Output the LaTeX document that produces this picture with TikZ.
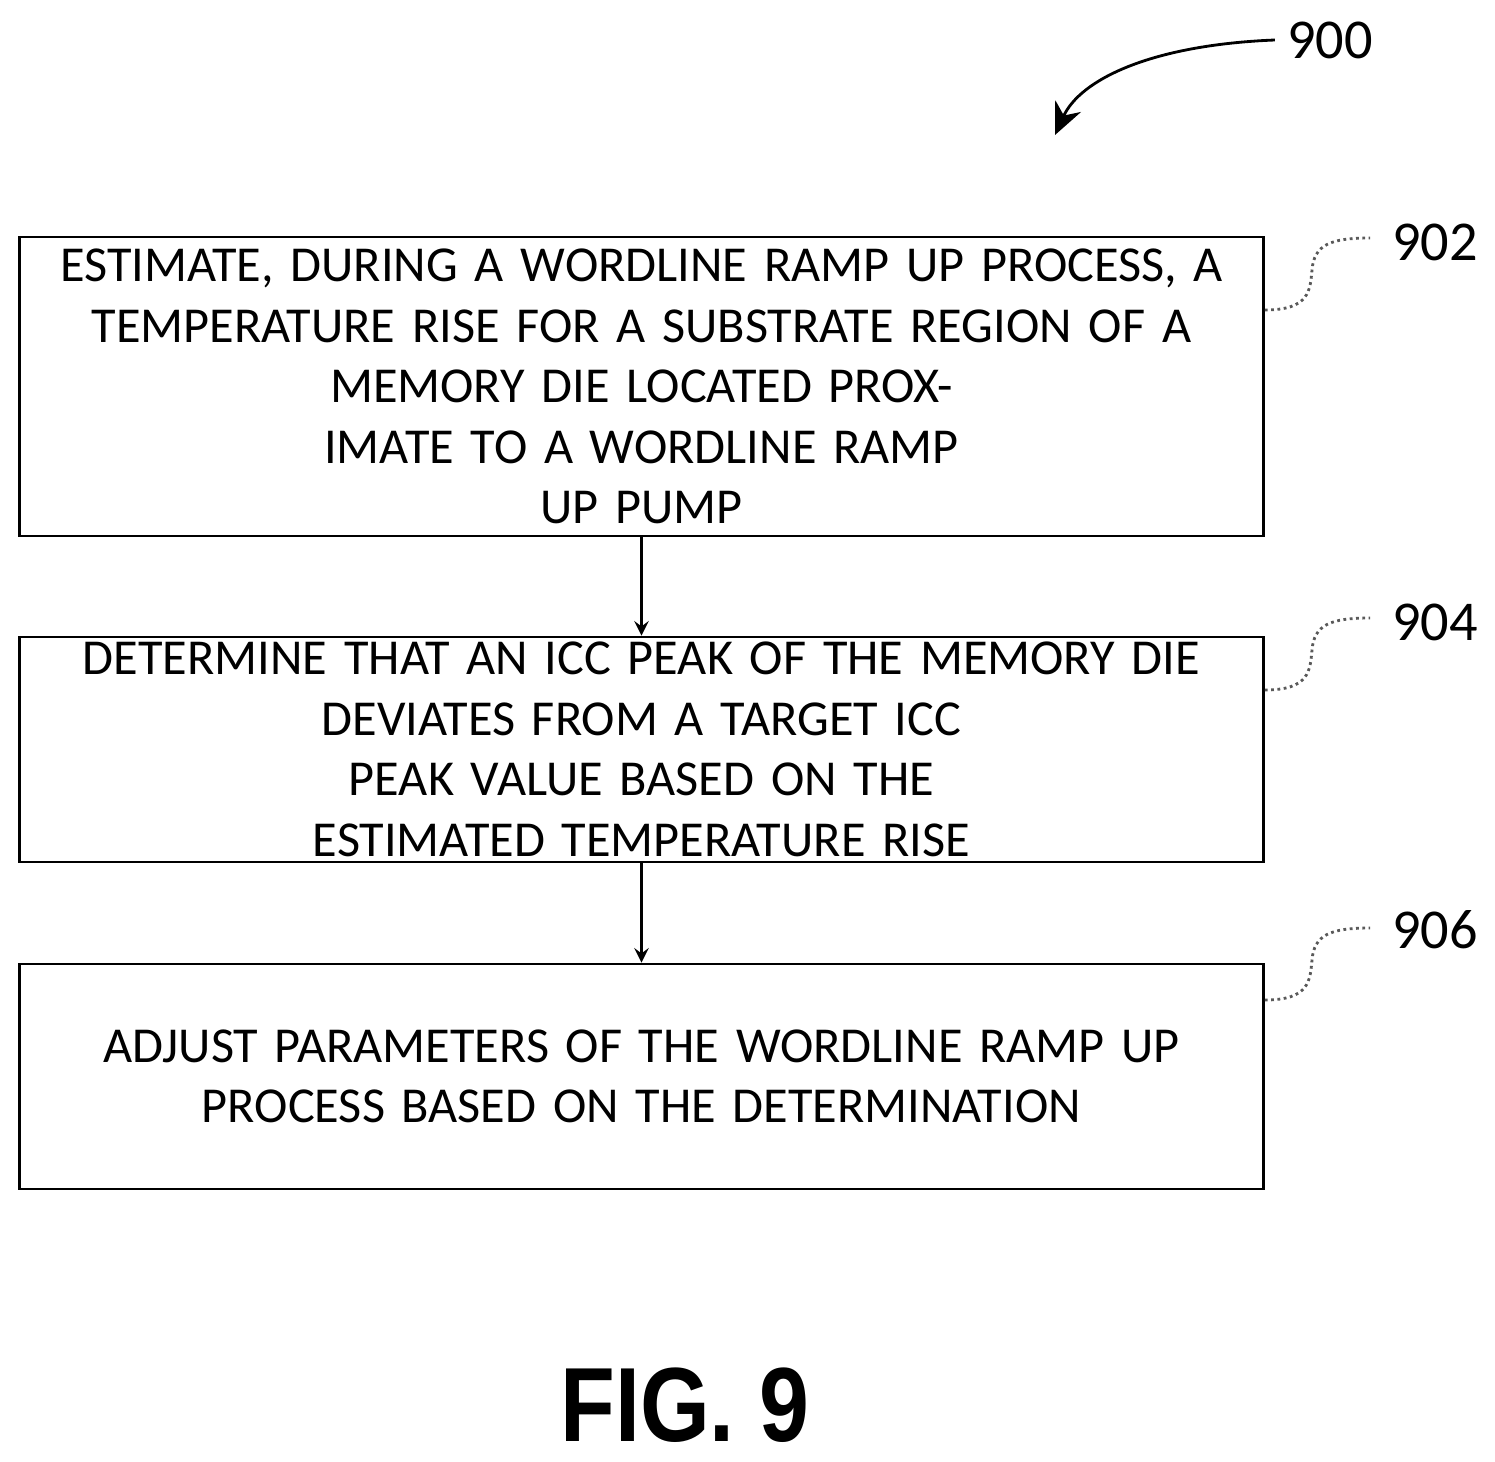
\documentclass[tikz,border=0pt]{standalone}
\usepackage{fontspec}
\setmainfont{Carlito}
\newfontfamily\figfont{Liberation Sans}
\usetikzlibrary{positioning, arrows.meta}
\tikzset{
  >=stealth,
  % process box
  procbox/.style={draw, thick, rectangle, minimum width=12.43cm, text width=12.2cm,
    align=center, font=\fontsize{14.3pt}{17.2pt}\selectfont, inner sep=0pt},
  % reference numbers
  refno/.style={font=\fontsize{16pt}{18pt}\selectfont},
  % squiggle leader
  lead/.style={densely dotted, thick, gray!70!black},
}
\begin{document}
\begin{tikzpicture}[x=0.01cm, y=-0.01cm]
  \useasboundingbox (0,0) rectangle (1495,1461);

  \node[procbox, minimum height=2.99cm] (s902) at (641.5,386.5)
    {ESTIMATE, DURING A WORDLINE RAMP UP PROCESS, A\\
     TEMPERATURE RISE FOR A SUBSTRATE REGION OF A\\
     MEMORY DIE LOCATED PROXIMATE TO A WORDLINE RAMP\\
     UP PUMP};
  \node[procbox, minimum height=2.25cm] (s904) at (641.5,749.5)
    {DETERMINE THAT AN ICC PEAK OF THE MEMORY DIE\\
     DEVIATES FROM A TARGET ICC PEAK VALUE BASED ON THE\\
     ESTIMATED TEMPERATURE RISE};
  \node[procbox, minimum height=2.25cm] (s906) at (641.5,1076.5)
    {ADJUST PARAMETERS OF THE WORDLINE RAMP UP\\
     PROCESS BASED ON THE DETERMINATION};

  \draw[thick, ->] (s902) -- (s904);
  \draw[thick, ->] (s904) -- (s906);

  % reference labels
  \node[refno] (l900) at (1330,40) {900};
  \node[refno] (l902) at (1435,242) {902};
  \node[refno] (l904) at (1435,622) {904};
  \node[refno] (l906) at (1435,930) {906};

  \coordinate (a900) at (1055,135);
  \draw[thick, -{Stealth[length=9pt, width=8pt]}] (l900.west) .. controls (1150,45) and (1080,80) .. (a900);

  \foreach \n/\y in {902/310, 904/690, 906/1000} {
    \draw[lead] (s\n.east |- {(0,\y)}) .. controls (1310,\y) and (1310,{\y-20}) .. (1312,{\y-40})
      .. controls (1314,{\y-65}) and (1330,{\y-72}) .. (1370,{\y-72});
  }

  \node[font=\figfont\bfseries\fontsize{30pt}{34pt}\selectfont, xscale=0.85] (fig) at (685,1405) {FIG. 9};
\end{tikzpicture}
\end{document}
